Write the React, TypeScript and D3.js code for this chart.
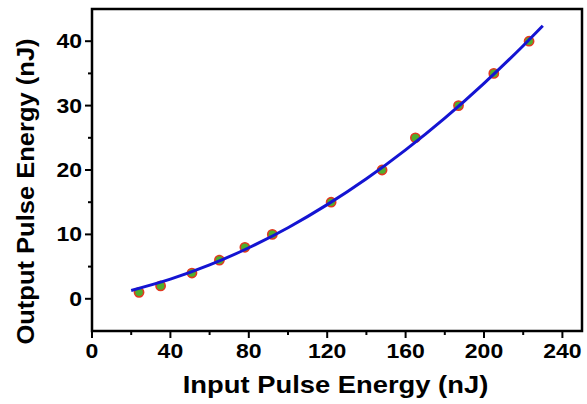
import React, { useEffect, useRef } from "react";
import * as d3 from "d3";

// measured points
const inputEnergy = [24, 35, 51, 65, 78, 92, 122, 148, 165, 187, 205, 223];
const outputEnergy = [1, 2, 4, 6, 8, 10, 15, 20, 25, 30, 35, 40];

// fit curve
const fitX = [20, 40, 60, 80, 100, 120, 140, 160, 180, 200, 220, 230];
const fitY = [1.3, 3.05, 5.26, 7.93, 11.04, 14.62, 18.64, 23.13, 28.06, 33.46, 39.3, 42.4];

const xTicks = [0, 40, 80, 120, 160, 200, 240];
const xMinor = [20, 60, 100, 140, 180, 220];
const yTicks = [0, 10, 20, 30, 40];
const yMinor = [5, 15, 25, 35];

const FONT = "'Liberation Sans', Arial, sans-serif";

const App = () => {
  const ref = useRef<HTMLDivElement>(null);

  useEffect(() => {
    const W = 587, H = 404;
    const margin = { top: 9, right: 5, bottom: 73, left: 92 };
    const width = W - margin.left - margin.right,
          height = H - margin.top - margin.bottom;

    d3.select(ref.current).select("svg").remove();

    const root = d3.select(ref.current)
      .append("svg")
      .attr("width", W)
      .attr("height", H)
      .style("position", "absolute")
      .style("left", "0px")
      .style("top", "0px")
      .style("background", "white");

    const svg = root.append("g")
      .attr("transform", `translate(${margin.left},${margin.top})`);

    const x = d3.scaleLinear().domain([0, 250]).range([0, width]);
    const y = d3.scaleLinear().domain([-5, 45]).range([height, 0]);

    // ticks
    const tickG = svg.append("g").attr("stroke", "black").attr("stroke-width", 2);
    xTicks.forEach(t => tickG.append("line")
      .attr("x1", x(t)).attr("x2", x(t)).attr("y1", height).attr("y2", height + 7));
    xMinor.forEach(t => tickG.append("line")
      .attr("x1", x(t)).attr("x2", x(t)).attr("y1", height).attr("y2", height + 4));
    yTicks.forEach(t => tickG.append("line")
      .attr("y1", y(t)).attr("y2", y(t)).attr("x1", 0).attr("x2", -7));
    yMinor.forEach(t => tickG.append("line")
      .attr("y1", y(t)).attr("y2", y(t)).attr("x1", 0).attr("x2", -4));

    // tick labels (stretched a little horizontally like the original)
    svg.append("g").selectAll("text")
      .data(xTicks)
      .enter().append("text")
      .attr("transform", d => `translate(${x(d)},${height + 27}) scale(1.18,1)`)
      .attr("text-anchor", "middle")
      .attr("font-family", FONT)
      .attr("font-weight", "bold")
      .attr("font-size", 19.5)
      .text(d => d);

    svg.append("g").selectAll("text")
      .data(yTicks)
      .enter().append("text")
      .attr("transform", d => `translate(-10,${y(d) + 7}) scale(1.18,1)`)
      .attr("text-anchor", "end")
      .attr("font-family", FONT)
      .attr("font-weight", "bold")
      .attr("font-size", 19.5)
      .text(d => d);

    // axis titles
    svg.append("text")
      .attr("transform", `translate(243.5,${height + 62}) scale(1.19,1)`)
      .attr("text-anchor", "middle")
      .attr("font-family", FONT)
      .attr("font-weight", "bold")
      .attr("font-size", 23)
      .text("Input Pulse Energy (nJ)");

    svg.append("text")
      .attr("transform", `translate(-58,182.5) rotate(-90) scale(1.11,1)`)
      .attr("text-anchor", "middle")
      .attr("font-family", FONT)
      .attr("font-weight", "bold")
      .attr("font-size", 23)
      .text("Output Pulse Energy (nJ)");

    // data points
    svg.append("g")
      .selectAll("circle")
      .data(inputEnergy)
      .enter().append("circle")
      .attr("cx", d => x(d))
      .attr("cy", (d, i) => y(outputEnergy[i]))
      .attr("r", 4.6)
      .attr("fill", "#4fae2c")
      .attr("stroke", "#e2381f")
      .attr("stroke-width", 1.6);

    // fit line
    const line = d3.line<number>()
      .x(d => x(d))
      .y((d, i) => y(fitY[i]))
      .curve(d3.curveMonotoneX);

    svg.append("path")
      .datum(fitX)
      .attr("d", line)
      .attr("fill", "none")
      .attr("stroke", "#1414d2")
      .attr("stroke-width", 3);

    // frame
    svg.append("rect")
      .attr("x", 0).attr("y", 0)
      .attr("width", width).attr("height", height)
      .attr("fill", "none")
      .attr("stroke", "black")
      .attr("stroke-width", 2.5);
  }, []);

  return <div ref={ref}></div>;
};

export default App;
